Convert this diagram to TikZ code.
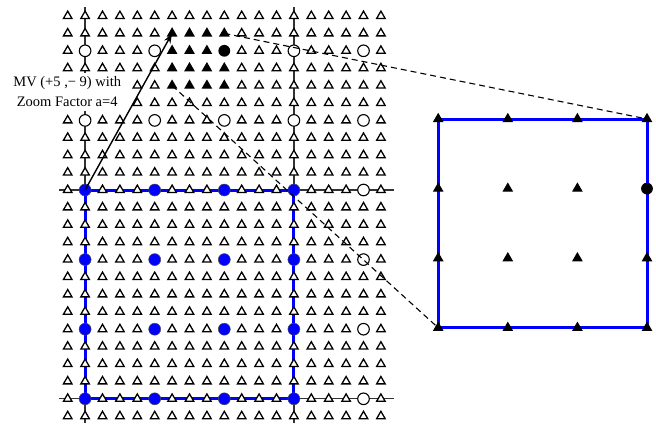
\documentclass[tikz,border=0pt]{standalone}
\usepackage{fontspec}
\setmainfont{Liberation Serif}
\usetikzlibrary{shapes.geometric,arrows.meta}
\begin{document}
\begin{tikzpicture}[x=1bp,y=-1bp,
  tri/.style={regular polygon, regular polygon sides=3, draw=black, line width=1.3bp, inner sep=0pt, minimum size=9.8bp, fill=white},
  trif/.style={tri, fill=black},
  ocirc/.style={circle, draw=black, line width=1.1bp, fill=white, inner sep=0pt, minimum size=11.6bp},
  bcirc/.style={circle, draw=black!70, line width=0.5bp, fill=blue, inner sep=0pt, minimum size=12bp},
  kcirc/.style={circle, fill=black, inner sep=0pt, minimum size=11.8bp},
  gridline/.style={draw=black!80, line width=1.3bp},
  blueline/.style={draw=blue, line width=3bp},
  zoomline/.style={draw=black, dash pattern=on 6bp off 4bp, line width=1.1bp},
  mvarrow/.style={draw=black, line width=1.4bp, -{Stealth[length=10bp,width=7bp]}},
  lbl/.style={font=\fontsize{14.5bp}{17bp}\selectfont, inner sep=0pt, anchor=base},
  maskbox/.style={fill=white, inner sep=0pt, minimum width=126bp, minimum height=38bp}
]
\useasboundingbox (0,0) rectangle (656,423);
% grid line end points
\coordinate (v1t) at (85.1,7);
\coordinate (v1b) at (85.1,423);
\coordinate (v13t) at (293.9,7);
\coordinate (v13b) at (293.9,423);
\coordinate (h10l) at (59,190);
\coordinate (h10r) at (394,190);
\coordinate (h22l) at (59,398.8);
\coordinate (h22r) at (394,398.8);
\draw[gridline] (v1t) -- (v1b);
\draw[gridline] (v13t) -- (v13b);
\draw[gridline] (h10l) -- (h10r);
\draw[gridline] (h22l) -- (h22r);
% blue block
\coordinate (bl-tl) at (85.1,190);
\coordinate (bl-br) at (293.9,398.8);
\draw[blueline] (bl-tl) rectangle (bl-br);
% grid points
\foreach \i in {0,...,18}{
  \foreach \j in {0,...,23}{
    \pgfmathtruncatemacro\ci{mod(\i,4)}
    \pgfmathtruncatemacro\cj{mod(\j,4)}
    \pgfmathtruncatemacro\iscirc{(\ci==1)&&(\cj==2)}
    \pgfmathtruncatemacro\isblk{(\i>5)&&(\i<10)&&(\j>0)&&(\j<5)}
    \pgfmathtruncatemacro\isblue{(\j>9)&&(\i<14)}
    \ifnum\iscirc=1
      \ifnum\isblk=1
        \node[kcirc] (g-\i-\j) at ({67.7+17.4*\i},{16+17.4*\j}) {};
      \else\ifnum\isblue=1
        \node[bcirc] (g-\i-\j) at ({67.7+17.4*\i},{16+17.4*\j}) {};
      \else
        \node[ocirc] (g-\i-\j) at ({67.7+17.4*\i},{16+17.4*\j}) {};
      \fi\fi
    \else
      \ifnum\isblk=1
        \node[trif] (g-\i-\j) at ({67.7+17.4*\i},{16+17.4*\j}) {};
      \else
        \node[tri] (g-\i-\j) at ({67.7+17.4*\i},{16+17.4*\j}) {};
      \fi
    \fi
  }
}
% label
\node[maskbox] (mask) at (66,92) {};
\node[lbl] (mv1) at (67.3,86.7) {MV (+5 ,− 9) with};
\node[lbl] (mv2) at (67.2,106.7) {Zoom Factor a=4};
% zoomed block
\coordinate (zc-tl) at (438.2,119);
\coordinate (zc-br) at (647,327.8);
\draw[blueline] (zc-tl) rectangle (zc-br);
\foreach \i in {0,...,3}{
  \foreach \j in {0,...,3}{
    \pgfmathtruncatemacro\isc{(\i==3)&&(\j==1)}
    \ifnum\isc=1
      \node[kcirc] (z-\i-\j) at ({438.2+69.6*\i},{119+69.6*\j}) {};
    \else
      \node[trif] (z-\i-\j) at ({438.2+69.6*\i},{119+69.6*\j}) {};
    \fi
  }
}
% dashed zoom lines
\draw[zoomline] (g-9-1.center) -- (z-3-0.center);
\draw[zoomline] (g-6-4.center) -- (z-0-3.center);
% motion vector
\draw[mvarrow] (g-1-10.center) -- (g-6-1.center);
\end{tikzpicture}
\end{document}
